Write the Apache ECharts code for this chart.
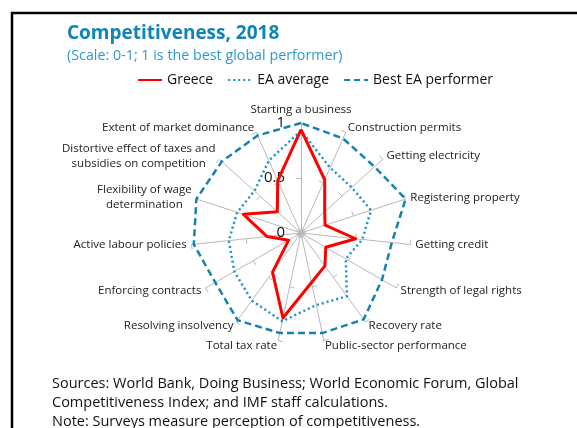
<!DOCTYPE html>
<html><head><meta charset="utf-8">
<script src="https://cdn.jsdelivr.net/npm/echarts@6/dist/echarts.min.js"></script>
<style>html,body{margin:0;padding:0;background:#fff}#c{width:577px;height:428px}</style>
</head><body><div id="c"></div>
<script>
// Categories in clockwise order starting from the top
const categories = ['Starting a business','Construction permits','Getting electricity','Registering property','Getting credit','Strength of legal rights','Recovery rate','Public-sector performance','Total tax rate','Resolving insolvency','Enforcing contracts','Active labour policies','Flexibility of wage\ndetermination','Distortive effect of taxes and\nsubsidies on competition','Extent of market dominance'];
const greece    = [0.94,0.53,0.29,0.23,0.50,0.26,0.37,0.46,0.79,0.44,0.13,0.31,0.55,0.29,0.52];
const eaAverage = [0.93,0.65,0.62,0.67,0.56,0.47,0.71,0.67,0.82,0.76,0.70,0.66,0.61,0.57,0.72];
const bestEA    = [1.00,0.94,0.90,1.00,0.83,0.85,0.97,0.93,0.93,0.98,0.90,0.98,1.00,0.97,0.97];
const seriesNames = ['Greece','EA average','Best EA performer'];
const footerLines = ['Sources: World Bank, Doing Business; World Economic Forum, Global','Competitiveness Index; and IMF staff calculations.','Note: Surveys measure perception of competitiveness.'];

const F = '"Open Sans", "Noto Sans", sans-serif';
const RED = '#ff0000', DOT = '#1b92c8', DASH = '#1782b0';
// ECharts radar lays indicators counter-clockwise: reorder
const order = [0].concat(categories.map((_, i) => i).slice(1).reverse());
const ro = arr => order.map(i => arr[i]);

const chart = echarts.init(document.getElementById('c'));
chart.setOption({
  animation: false,
  title: {
    text: 'Competitiveness, 2018',
    subtext: '(Scale: 0-1; 1 is the best global performer)',
    left: 62, top: 19, itemGap: 6,
    textStyle: {fontFamily: F, fontSize: 19, fontWeight: 'bold', color: '#1185b5'},
    subtextStyle: {fontFamily: F, fontSize: 14.3, color: '#2b9ad0'}
  },
  legend: {
    data: seriesNames, left: 132, top: 68, itemWidth: 24, itemHeight: 14, itemGap: 14,
    itemStyle: {opacity: 0},
    textStyle: {fontFamily: F, fontSize: 14, color: '#111'}
  },
  grid: {show: false, left: 0, top: 0, width: 1, height: 1},
  xAxis: {show: false, type: 'category', data: []},
  yAxis: {show: false, type: 'value'},
  radar: {
    center: [301, 233], radius: 110, startAngle: 90, splitNumber: 2, shape: 'polygon',
    indicator: order.map(i => ({name: categories[i], min: 0, max: 1, axisLabel: {show: i === 0}})),
    nameGap: 5,
    axisName: {
      color: '#222', fontFamily: F, fontSize: 11.5,
      formatter: n => n.split('\n').map(l => '{c|' + l + '}').join('\n'),
      rich: {c: {align: 'center', fontFamily: F, fontSize: 11.5, color: '#222', lineHeight: 15}}
    },
    axisLine: {lineStyle: {color: '#b8b8b8', width: 1}},
    axisTick: {show: true, length: 5, lineStyle: {color: '#b8b8b8'}},
    axisLabel: {show: false, fontFamily: F, fontSize: 15, color: '#111', margin: 16},
    splitLine: {show: false}, splitArea: {show: false}
  },
  series: [
    {type: 'line', name: 'Greece', data: [], symbol: 'none', itemStyle: {color: RED}, lineStyle: {color: RED, width: 3}},
    {type: 'line', name: 'EA average', data: [], symbol: 'none', itemStyle: {color: DOT}, lineStyle: {color: DOT, width: 2.5, type: [2, 3]}},
    {type: 'line', name: 'Best EA performer', data: [], symbol: 'none', itemStyle: {color: DASH}, lineStyle: {color: DASH, width: 2.5, type: [6, 4]}},
    {type: 'radar', name: 'Best EA performer', symbol: 'none', itemStyle: {color: DASH},
     lineStyle: {color: DASH, width: 2.5, type: [7, 4]}, data: [{name: 'Best EA performer', value: ro(bestEA)}]},
    {type: 'radar', name: 'EA average', symbol: 'none', itemStyle: {color: DOT},
     lineStyle: {color: DOT, width: 2.5, type: [2, 3]}, data: [{name: 'EA average', value: ro(eaAverage)}]},
    {type: 'radar', name: 'Greece', symbol: 'none', itemStyle: {color: RED},
     lineStyle: {color: RED, width: 3}, data: [{name: 'Greece', value: ro(greece)}]}
  ],
  graphic: [
    {type: 'line', shape: {x1: 11, y1: 13, x2: 577, y2: 13}, style: {stroke: '#000', lineWidth: 2.5}},
    {type: 'line', shape: {x1: 12, y1: 12, x2: 12, y2: 428}, style: {stroke: '#000', lineWidth: 2.5}},
    {type: 'text', left: 52, top: 374, style: {text: footerLines.join('\n'), fontFamily: F, fontSize: 14.5, lineHeight: 19, fill: '#111'}}
  ]
});
</script></body></html>
